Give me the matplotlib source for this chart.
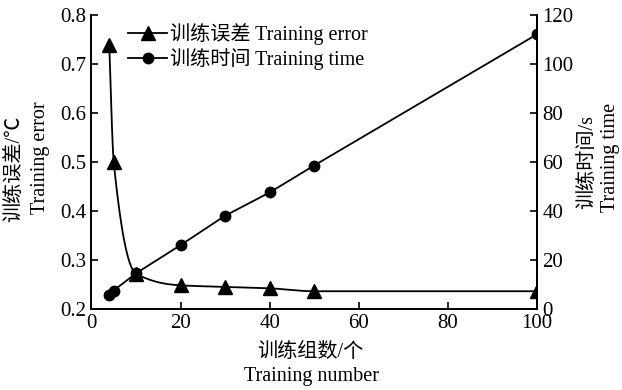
import numpy as np
import matplotlib.pyplot as plt

plt.rcParams['font.family'] = ['Liberation Serif', 'Noto Sans CJK SC', 'DejaVu Sans']

# data
train_num = [4, 5, 10, 20, 30, 40, 50, 100]
train_error = [0.738, 0.50, 0.272, 0.248, 0.245, 0.242, 0.236, 0.236]
train_time = [5.5, 7.5, 14.5, 26, 38, 47.5, 58.5, 112]


def pchip(x, y, xs):
    # monotone cubic, just for drawing the smooth error curve
    x = np.asarray(x, float); y = np.asarray(y, float)
    h = np.diff(x); d = np.diff(y) / h
    m = np.zeros_like(y)
    for k in range(1, len(x) - 1):
        if d[k - 1] * d[k] > 0:
            w1 = 2 * h[k] + h[k - 1]; w2 = h[k] + 2 * h[k - 1]
            m[k] = (w1 + w2) / (w1 / d[k - 1] + w2 / d[k])
    m[0] = d[0]; m[-1] = 0
    out = np.empty_like(xs)
    for i, xv in enumerate(xs):
        k = min(np.searchsorted(x, xv) - 1, len(x) - 2)
        k = max(k, 0)
        t = (xv - x[k]) / h[k]
        h00 = 2*t**3 - 3*t**2 + 1; h10 = t**3 - 2*t**2 + t
        h01 = -2*t**3 + 3*t**2; h11 = t**3 - t**2
        out[i] = h00*y[k] + h10*h[k]*m[k] + h01*y[k+1] + h11*h[k]*m[k+1]
    return out


fig = plt.figure(figsize=(6.22, 3.9), dpi=100)
ax = fig.add_axes([0.147, 0.208, 0.716, 0.754])
ax2 = ax.twinx()

xs = np.linspace(4, 100, 800)
ax.plot(xs, pchip(train_num, train_error, xs), color='black', lw=1.3)
ax.plot(train_num, train_error, linestyle='none', marker='^', color='black', markersize=10)
ax2.plot(train_num, train_time, color='black', lw=1.3, marker='o', markersize=7.5)

ax.set_xlim(0, 100)
ax.set_ylim(0.2, 0.8)
ax2.set_ylim(0, 120)
ax.set_xticks([0, 20, 40, 60, 80, 100])
ax.set_yticks([0.2, 0.3, 0.4, 0.5, 0.6, 0.7, 0.8])
ax2.set_yticks([0, 20, 40, 60, 80, 100, 120])

for a in (ax, ax2):
    a.spines['top'].set_visible(False)
    for s in a.spines.values():
        s.set_linewidth(1.3)
ax.tick_params(direction='in', length=5, width=1.2, labelsize=15, pad=4)
ax2.tick_params(direction='in', length=5, width=1.2, labelsize=15, pad=4)

# axis titles, two lines each (Chinese + English)
fig.text(310 / 622, 1 - 352 / 390, '训练组数/个', fontsize=14.5, ha='center', va='center')
fig.text(311 / 622, 1 - 377 / 390, 'Training number', fontsize=14.5, ha='center', va='center')
fig.text(15 / 622, 1 - 169 / 390, '训练误差/℃', fontsize=14.5, ha='center', va='center', rotation=90)
fig.text(41 / 622, 1 - 158 / 390, 'Training error', fontsize=14.5, ha='center', va='center', rotation=90)
fig.text(588 / 622, 1 - 162 / 390, '训练时间/s', fontsize=14.5, ha='center', va='center', rotation=90)
fig.text(611 / 622, 1 - 157 / 390, 'Training time', fontsize=14.5, ha='center', va='center', rotation=90)

l1, = ax.plot([], [], color='black', lw=1.3, marker='^', markersize=10, label='训练误差 Training error')
l2, = ax.plot([], [], color='black', lw=1.3, marker='o', markersize=7.5, label='训练时间 Training time')
ax.legend(handles=[l1, l2], loc='upper left', bbox_to_anchor=(0.082, 0.972), frameon=False,
          fontsize=14.5, handlelength=1.95, handletextpad=0.15, labelspacing=0.15,
          borderaxespad=0, borderpad=0)

fig.savefig('out.png', dpi=100)
